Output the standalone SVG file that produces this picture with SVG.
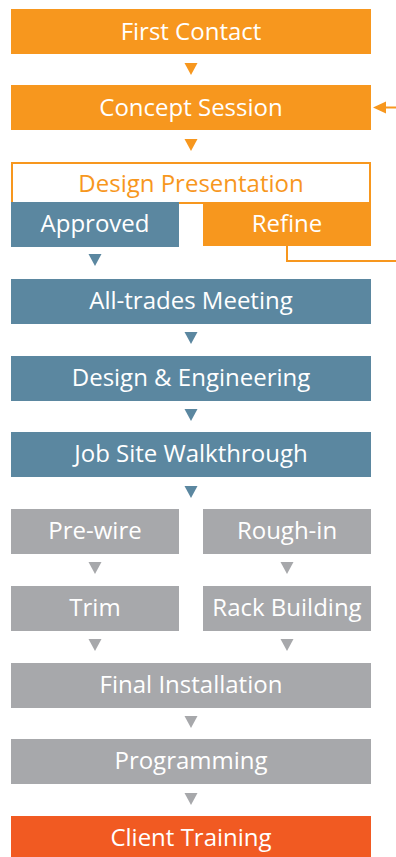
<svg xmlns="http://www.w3.org/2000/svg" width="396" height="857" viewBox="0 0 396 857">
<style>
text{font-family:"Open Sans","Noto Sans",sans-serif;font-size:24px;fill:#fff;text-anchor:middle}
.o{fill:#F7971E}.b{fill:#5B87A0}.g{fill:#A7A8AB}.r{fill:#F15A22}
.ao{fill:#F7971E}.ab{fill:#5B87A0}.ag{fill:#A7A8AB}
</style>
<defs>
<polygon id="tri" points="-6.5,0 6.5,0 0,12"/>
</defs>
<rect width="396" height="857" fill="#fff"/>
<g id="first-contact"><rect class="o" x="11" y="9" width="360" height="45"/><text x="191" y="39.5">First Contact</text></g>
<g id="concept-session"><rect class="o" x="11" y="85" width="360" height="45"/><text x="191" y="115.5">Concept Session</text></g>
<g id="design-presentation"><rect x="12" y="163" width="358" height="40" fill="#fff" stroke="#F7971E" stroke-width="2"/><text x="191" y="192" style="fill:#F7971E">Design Presentation</text></g>
<g id="approved"><rect class="b" x="11" y="202" width="168" height="45"/><text x="95" y="232">Approved</text></g>
<g id="refine"><rect class="o" x="203" y="202" width="168" height="44"/><text x="287" y="232">Refine</text></g>
<g id="all-trades"><rect class="b" x="11" y="279" width="360" height="45"/><text x="191" y="309">All-trades Meeting</text></g>
<g id="design-engineering"><rect class="b" x="11" y="356" width="360" height="45"/><text x="191" y="386">Design &amp; Engineering</text></g>
<g id="job-site"><rect class="b" x="11" y="432" width="360" height="45"/><text x="191" y="462">Job Site Walkthrough</text></g>
<g id="pre-wire"><rect class="g" x="11" y="509" width="168" height="45"/><text x="95" y="539">Pre-wire</text></g>
<g id="rough-in"><rect class="g" x="203" y="509" width="168" height="45"/><text x="287" y="539">Rough-in</text></g>
<g id="trim"><rect class="g" x="11" y="586" width="168" height="45"/><text x="95" y="616">Trim</text></g>
<g id="rack-building"><rect class="g" x="203" y="586" width="168" height="45"/><text x="287" y="616">Rack Building</text></g>
<g id="final-installation"><rect class="g" x="11" y="663" width="360" height="45"/><text x="191" y="693">Final Installation</text></g>
<g id="programming"><rect class="g" x="11" y="739" width="360" height="45"/><text x="191" y="769">Programming</text></g>
<g id="client-training"><rect class="r" x="11" y="816" width="360" height="45"/><text x="191" y="846">Client Training</text></g>
<g id="connectors">
<use href="#tri" class="ao" x="191" y="63"/>
<use href="#tri" class="ao" x="191" y="139"/>
<use href="#tri" class="ab" x="95" y="254"/>
<use href="#tri" class="ab" x="191" y="332"/>
<use href="#tri" class="ab" x="191" y="409"/>
<use href="#tri" class="ab" x="191" y="486"/>
<use href="#tri" class="ag" x="95" y="562"/>
<use href="#tri" class="ag" x="287" y="562"/>
<use href="#tri" class="ag" x="95" y="639"/>
<use href="#tri" class="ag" x="287" y="639"/>
<use href="#tri" class="ag" x="191" y="716"/>
<use href="#tri" class="ag" x="191" y="793"/>
<polyline points="287,246 287,261 396,261" fill="none" stroke="#F7971E" stroke-width="2"/>
<line x1="384" y1="107.5" x2="396" y2="107.5" stroke="#F7971E" stroke-width="2"/>
<polygon points="373,107.5 386,101.5 386,113.5" fill="#F7971E"/>
</g>
</svg>
